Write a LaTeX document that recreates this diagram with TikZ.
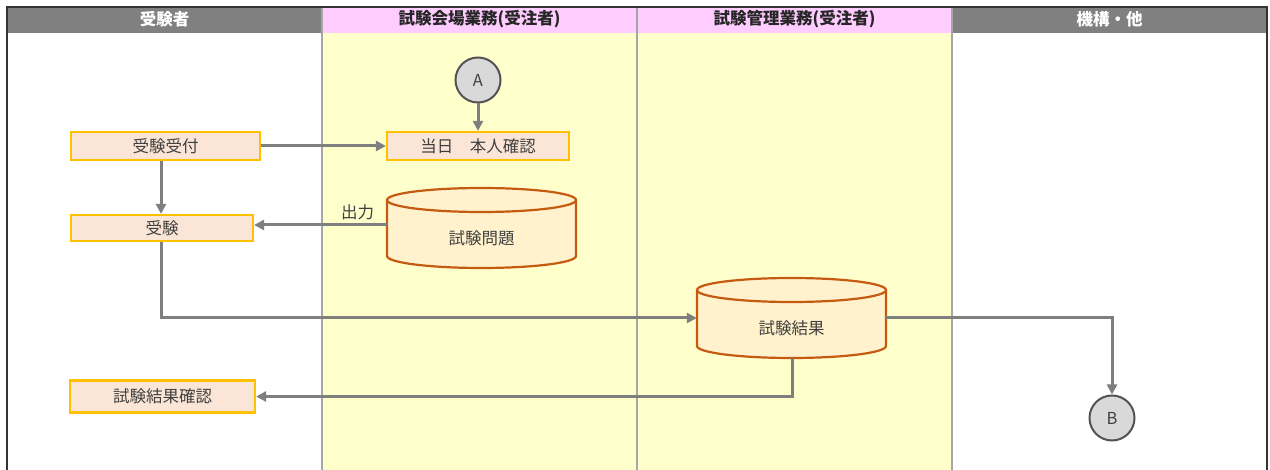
\documentclass[tikz,border=0pt]{standalone}
\usepackage{fontspec}
\setmainfont{Noto Sans CJK JP}
\usetikzlibrary{arrows.meta}
\definecolor{hdrgray}{HTML}{808080}
\definecolor{hdrpink}{HTML}{FFCCFF}
\definecolor{laneyel}{HTML}{FFFFCC}
\definecolor{boxfill}{HTML}{FBE5D6}
\definecolor{boxline}{HTML}{FFC000}
\definecolor{cylfill}{HTML}{FFF2CC}
\definecolor{cylline}{HTML}{C55A11}
\definecolor{arrgray}{HTML}{7F7F7F}
\definecolor{txtgray}{HTML}{404040}
\definecolor{sepgray}{HTML}{A6A6A6}
\definecolor{circfill}{HTML}{D9D9D9}
\tikzset{
  procbox/.style={draw=boxline, fill=boxfill, line width=2.2pt, rectangle, inner sep=0pt, font=\fontsize{16.5}{19}\selectfont, text=txtgray},
  conn/.style={circle, draw=txtgray!90, fill=circfill, line width=2pt, minimum size=45pt, inner sep=0pt, font=\fontsize{16.5}{19}\selectfont, text=txtgray},
  flow/.style={draw=arrgray, line width=3pt, -{Triangle[length=10pt,width=10pt]}},
  hdrtext/.style={font=\bfseries\fontsize{16.5}{19}\selectfont},
  lbl/.style={font=\fontsize{16.5}{19}\selectfont, text=txtgray},
}
\newcommand{\cyl}[6]{% name, left, top, right, bottom, text
  \pgfmathsetmacro{\cx}{(#2+#4)/2}
  \pgfmathsetmacro{\rx}{(#4-#2)/2}
  \fill[cylfill] (#2,#3+12) -- (#2,#5-12) arc[start angle=180, end angle=0, x radius=\rx, y radius=12] -- (#4,#3+12) arc[start angle=0, end angle=-180, x radius=\rx, y radius=12] -- cycle;
  \draw[cylline, line width=2.2pt] (#2,#3+12) -- (#2,#5-12) arc[start angle=180, end angle=0, x radius=\rx, y radius=12] -- (#4,#3+12);
  \draw[cylline, line width=2.2pt] (\cx,#3+12) ellipse[x radius=\rx, y radius=12];
  \node[inner sep=0pt, minimum width=#4-#2, minimum height=#5-#3] (#1) at (\cx,{(#3+#5)/2}) {};
  \node[lbl] at (\cx,{(#3+#5)/2+10}) {#6};
}
\begin{document}
\begin{tikzpicture}[x=1pt,y=-1pt]
\useasboundingbox (0,0) rectangle (1270,470);
\fill[white] (0,0) rectangle (1270,470);
% lanes
\fill[laneyel] (322,33) rectangle (952,470);
\fill[hdrgray] (7,7) rectangle (322,33);
\fill[hdrpink] (322,7) rectangle (952,33);
\fill[hdrgray] (952,7) rectangle (1267,33);
\node[hdrtext, text=white] (h1) at (164.5,19) {受験者};
\node[hdrtext, text=black!85] (h2) at (479.5,19) {試験会場業務(受注者)};
\node[hdrtext, text=black!85] (h3) at (794.5,19) {試験管理業務(受注者)};
\node[hdrtext, text=white] (h4) at (1109.5,19) {機構・他};
\draw[sepgray, line width=2.2pt] (322,7) -- (322,470) (637,7) -- (637,470) (952,7) -- (952,470);
\draw[black!80, line width=2.2pt] (7,470) -- (7,7) -- (1267,7) -- (1267,470);
% nodes
\node[conn] (A) at (478,80) {A};
\node[conn] (B) at (1112,418) {B};
\node[procbox, minimum width=182pt, minimum height=28pt] (honnin) at (478,146) {当日\quad 本人確認};
\node[procbox, minimum width=189pt, minimum height=28pt] (uketsuke) at (165.5,146) {受験受付};
\node[procbox, minimum width=182pt, minimum height=26pt] (juken) at (162,228) {受験};
\node[procbox, minimum width=185pt, minimum height=32pt] (kakunin) at (162.5,396.5) {試験結果確認};
\cyl{mondai}{387}{188}{576}{268}{試験問題}
\cyl{kekka}{697}{278}{886}{358}{試験結果}
% connectors
\draw[flow] (A) -- (honnin);
\draw[flow] (uketsuke.east) -- (honnin.west);
\draw[flow] (uketsuke.south -| 161,0) -- (juken.north -| 161,0);
\draw[flow] (mondai.west |- 0,225) -- node[lbl, above, pos=0.22] {出力} (juken.east |- 0,225);
\draw[flow] (juken.south -| 161,0) |- (kekka.west |- 0,318);
\draw[flow] (kekka.east |- 0,318) -| (B.north);
\draw[flow] (kekka.south -| 792,0) |- (kakunin.east);
\end{tikzpicture}
\end{document}
